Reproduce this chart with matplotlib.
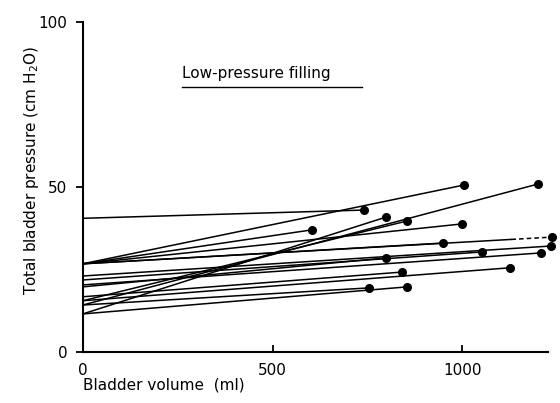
import matplotlib.pyplot as plt

# start pressure at 0 ml, end volume (ml), end pressure (cm H2O)
start_p = [40.5, 26.7, 26.7, 26.7, 26.7, 26.7, 23.0, 21.8, 20.3, 19.7,
           16.7, 15.5, 15.5, 14.2, 11.5, 11.5, 14.2]
end_v = [740, 1005, 604, 1000, 950, 1237, 1235, 1053, 1208, 800,
         842, 1127, 855, 755, 800, 855, 1200]
end_p = [43.0, 50.6, 37.0, 38.8, 33.0, 34.8, 32.1, 30.3, 30.0, 28.5,
         24.2, 25.5, 39.7, 19.4, 40.9, 19.7, 50.9]
dashed_line = 5      # this one is dashed past dash_from
dash_from = 1130

fig = plt.figure(figsize=(5.6, 4.03), dpi=100)
ax = fig.add_axes([0.148, 0.127, 0.831, 0.818])

for i in range(len(start_p)):
    if i == dashed_line:
        pm = start_p[i] + (end_p[i] - start_p[i]) * dash_from / end_v[i]
        ax.plot([0, dash_from], [start_p[i], pm], 'k-', lw=1.1)
        ax.plot([dash_from, end_v[i]], [pm, end_p[i]], 'k--', lw=1.1,
                dashes=(3, 2), clip_on=False)
    else:
        ax.plot([0, end_v[i]], [start_p[i], end_p[i]], 'k-', lw=1.1, clip_on=False)
    ax.plot(end_v[i], end_p[i], 'ko', markersize=5.5, clip_on=False)

ax.set_xlim(0, 1227)
ax.set_ylim(0, 100)
ax.spines['top'].set_visible(False)
ax.spines['right'].set_visible(False)
ax.spines['left'].set_linewidth(1.5)
ax.spines['bottom'].set_linewidth(1.5)
ax.set_xticks([0, 500, 1000])
ax.set_yticks([0, 50, 100])
ax.tick_params(axis='x', direction='in', length=5, width=1.3, labelsize=11, pad=8)
ax.tick_params(axis='y', direction='out', length=5, width=1.3, labelsize=11, pad=6)
ax.set_xlabel('Bladder volume  (ml)', fontsize=11, loc='left', labelpad=0)
ax.set_ylabel('Total bladder pressure (cm H$_2$O)', fontsize=11, labelpad=8)
ax.yaxis.set_label_coords(-0.09, 0.55)

ax.text(261, 84.5, 'Low-pressure filling', fontsize=11, va='center')
ax.plot([261, 736], [80.3, 80.3], 'k-', lw=1)

plt.savefig('out.png')
